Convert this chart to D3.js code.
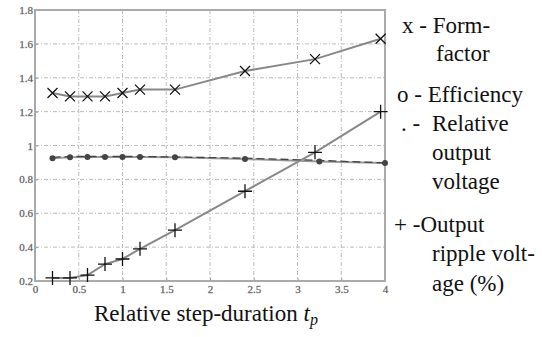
<!DOCTYPE html>
<html>
<head>
<meta charset="utf-8">
<script src="https://cdn.jsdelivr.net/npm/d3@7"></script>
<style>
  body { margin: 0; background: #fff; }
  #wrap { position: relative; width: 542px; height: 337px; }
  svg { display: block; position: absolute; left: 0; top: 0; }
  .leg { position: absolute; white-space: pre; font-family: 'Liberation Serif', 'Times New Roman', Tinos, serif; font-size: 23px; line-height: 23px; color: #111; }
</style>
</head>
<body>
<div id="wrap">
<svg id="chart" width="542" height="337"></svg>
</div>
<script>
// values
const tp = [0.2, 0.4, 0.6, 0.8, 1.0, 1.2, 1.6, 2.4, 3.2, 3.95];
const tpEff = [0.2, 0.4, 0.6, 0.8, 1.0, 1.2, 1.6, 2.4, 3.25, 4.0];
const formFactor = [1.31, 1.29, 1.29, 1.29, 1.31, 1.33, 1.33, 1.44, 1.51, 1.63];
const efficiency = [0.925, 0.93, 0.932, 0.932, 0.932, 0.932, 0.93, 0.92, 0.905, 0.897];
const relVoltage = [0.93, 0.935, 0.935, 0.935, 0.935, 0.935, 0.932, 0.925, 0.912, 0.897];
const ripple = [0.218, 0.218, 0.235, 0.30, 0.33, 0.39, 0.50, 0.73, 0.96, 1.20];
const xTicks = [0, 0.5, 1, 1.5, 2, 2.5, 3, 3.5, 4];
const yTicks = [0.2, 0.4, 0.6, 0.8, 1, 1.2, 1.4, 1.6, 1.8];
const legendLines = ['x - Form-', 'factor', 'o - Efficiency', '. -', 'Relative', 'output', 'voltage', '+ -Output', 'ripple volt-', 'age (%)'];

const SERIF = "'Liberation Serif', 'Times New Roman', Tinos, serif";

const svg = d3.select('#chart');
const margin = {top: 10, right: 157, bottom: 56, left: 35};
const width = 542 - margin.left - margin.right;
const height = 337 - margin.top - margin.bottom;

const g = svg.append('g')
  .attr('transform', 'translate(' + margin.left + ',' + margin.top + ')');

const x = d3.scaleLinear().domain([0, 4]).range([0, width]);
const y = d3.scaleLinear().domain([0.2, 1.8]).range([height, 0]);

// grid (dash-dot)
g.append('g')
  .selectAll('line')
  .data(xTicks.slice(1, -1))
  .enter().append('line')
    .attr('x1', d => x(d)).attr('x2', d => x(d))
    .attr('y1', 0).attr('y2', height)
    .attr('stroke', '#bbb').attr('stroke-width', 1)
    .attr('stroke-dasharray', '4,2,1,2');
g.append('g')
  .selectAll('line')
  .data(yTicks.slice(1, -1))
  .enter().append('line')
    .attr('y1', d => y(d)).attr('y2', d => y(d))
    .attr('x1', 0).attr('x2', width)
    .attr('stroke', '#bbb').attr('stroke-width', 1)
    .attr('stroke-dasharray', '4,2,1,2');

// axes
const xAxis = g.append('g')
  .attr('transform', 'translate(0,' + height + ')')
  .call(d3.axisBottom(x).tickValues(xTicks).tickSize(-3).tickPadding(4).tickFormat(d3.format('')));
const yAxis = g.append('g')
  .call(d3.axisLeft(y).tickValues(yTicks).tickSize(-3).tickPadding(2).tickFormat(d3.format('')));
[xAxis, yAxis].forEach(a => {
  a.attr('font-family', SERIF).attr('font-size', 11);
  a.select('.domain').remove();
  a.selectAll('line').attr('stroke', '#999');
  a.selectAll('text')
    .attr('fill', '#444')
    .attr('stroke', '#888').attr('stroke-width', 0.3)
    .style('font-family', SERIF)
    .style('font-size', '11px');
});

// frame
g.append('rect')
  .attr('width', width).attr('height', height)
  .attr('fill', 'none').attr('stroke', '#aaa').attr('stroke-width', 2);

const line = (xs) => d3.line().x((d, i) => x(xs[i])).y(d => y(d));

// lines
g.append('path').datum(formFactor).attr('d', line(tp))
  .attr('fill', 'none').attr('stroke', '#888').attr('stroke-width', 2);
g.append('path').datum(ripple).attr('d', line(tp))
  .attr('fill', 'none').attr('stroke', '#888').attr('stroke-width', 2);
g.append('path').datum(efficiency).attr('d', line(tpEff))
  .attr('fill', 'none').attr('stroke', '#999').attr('stroke-width', 2);
g.append('path').datum(relVoltage).attr('d', line(tpEff))
  .attr('fill', 'none').attr('stroke', '#444').attr('stroke-width', 1.3)
  .attr('stroke-dasharray', '8,4');

// markers
g.selectAll('.eff')
  .data(efficiency)
  .enter().append('circle')
    .attr('cx', (d, i) => x(tpEff[i])).attr('cy', d => y(d))
    .attr('r', 3).attr('fill', '#444');

g.selectAll('.ff')
  .data(formFactor)
  .enter().append('path')
    .attr('transform', (d, i) => 'translate(' + x(tp[i]) + ',' + y(d) + ')')
    .attr('d', 'M-5,-5L5,5M-5,5L5,-5')
    .attr('stroke', '#111').attr('stroke-width', 1.3);

g.selectAll('.rp')
  .data(ripple)
  .enter().append('path')
    .attr('transform', (d, i) => 'translate(' + x(tp[i]) + ',' + y(d) + ')')
    .attr('d', 'M-7,0L7,0M0,-7L0,7')
    .attr('stroke', '#111').attr('stroke-width', 1.3);

// axis title
const title = svg.append('text')
  .attr('x', 94).attr('y', 321)
  .style('font-family', SERIF)
  .style('font-size', '23px')
  .attr('fill', '#111');
title.append('tspan').text('Relative step-duration ');
title.append('tspan').style('font-style', 'italic').text('t');
title.append('tspan').style('font-style', 'italic').style('font-size', '16px')
  .attr('dy', 4).text('p');

// legend text (HTML overlay; top = baseline - ~18)
const legX = [402, 436, 397, 401, 432, 432, 432, 394, 432, 432];
const legY = [32, 60, 101, 130, 130, 159, 188, 231, 260, 290];
d3.select('#wrap').selectAll('div.leg')
  .data(legendLines)
  .enter().append('div')
    .attr('class', 'leg')
    .style('left', (d, i) => legX[i] + 'px')
    .style('top', (d, i) => (legY[i] - 18) + 'px')
    .text(d => d);
</script>
</body>
</html>
